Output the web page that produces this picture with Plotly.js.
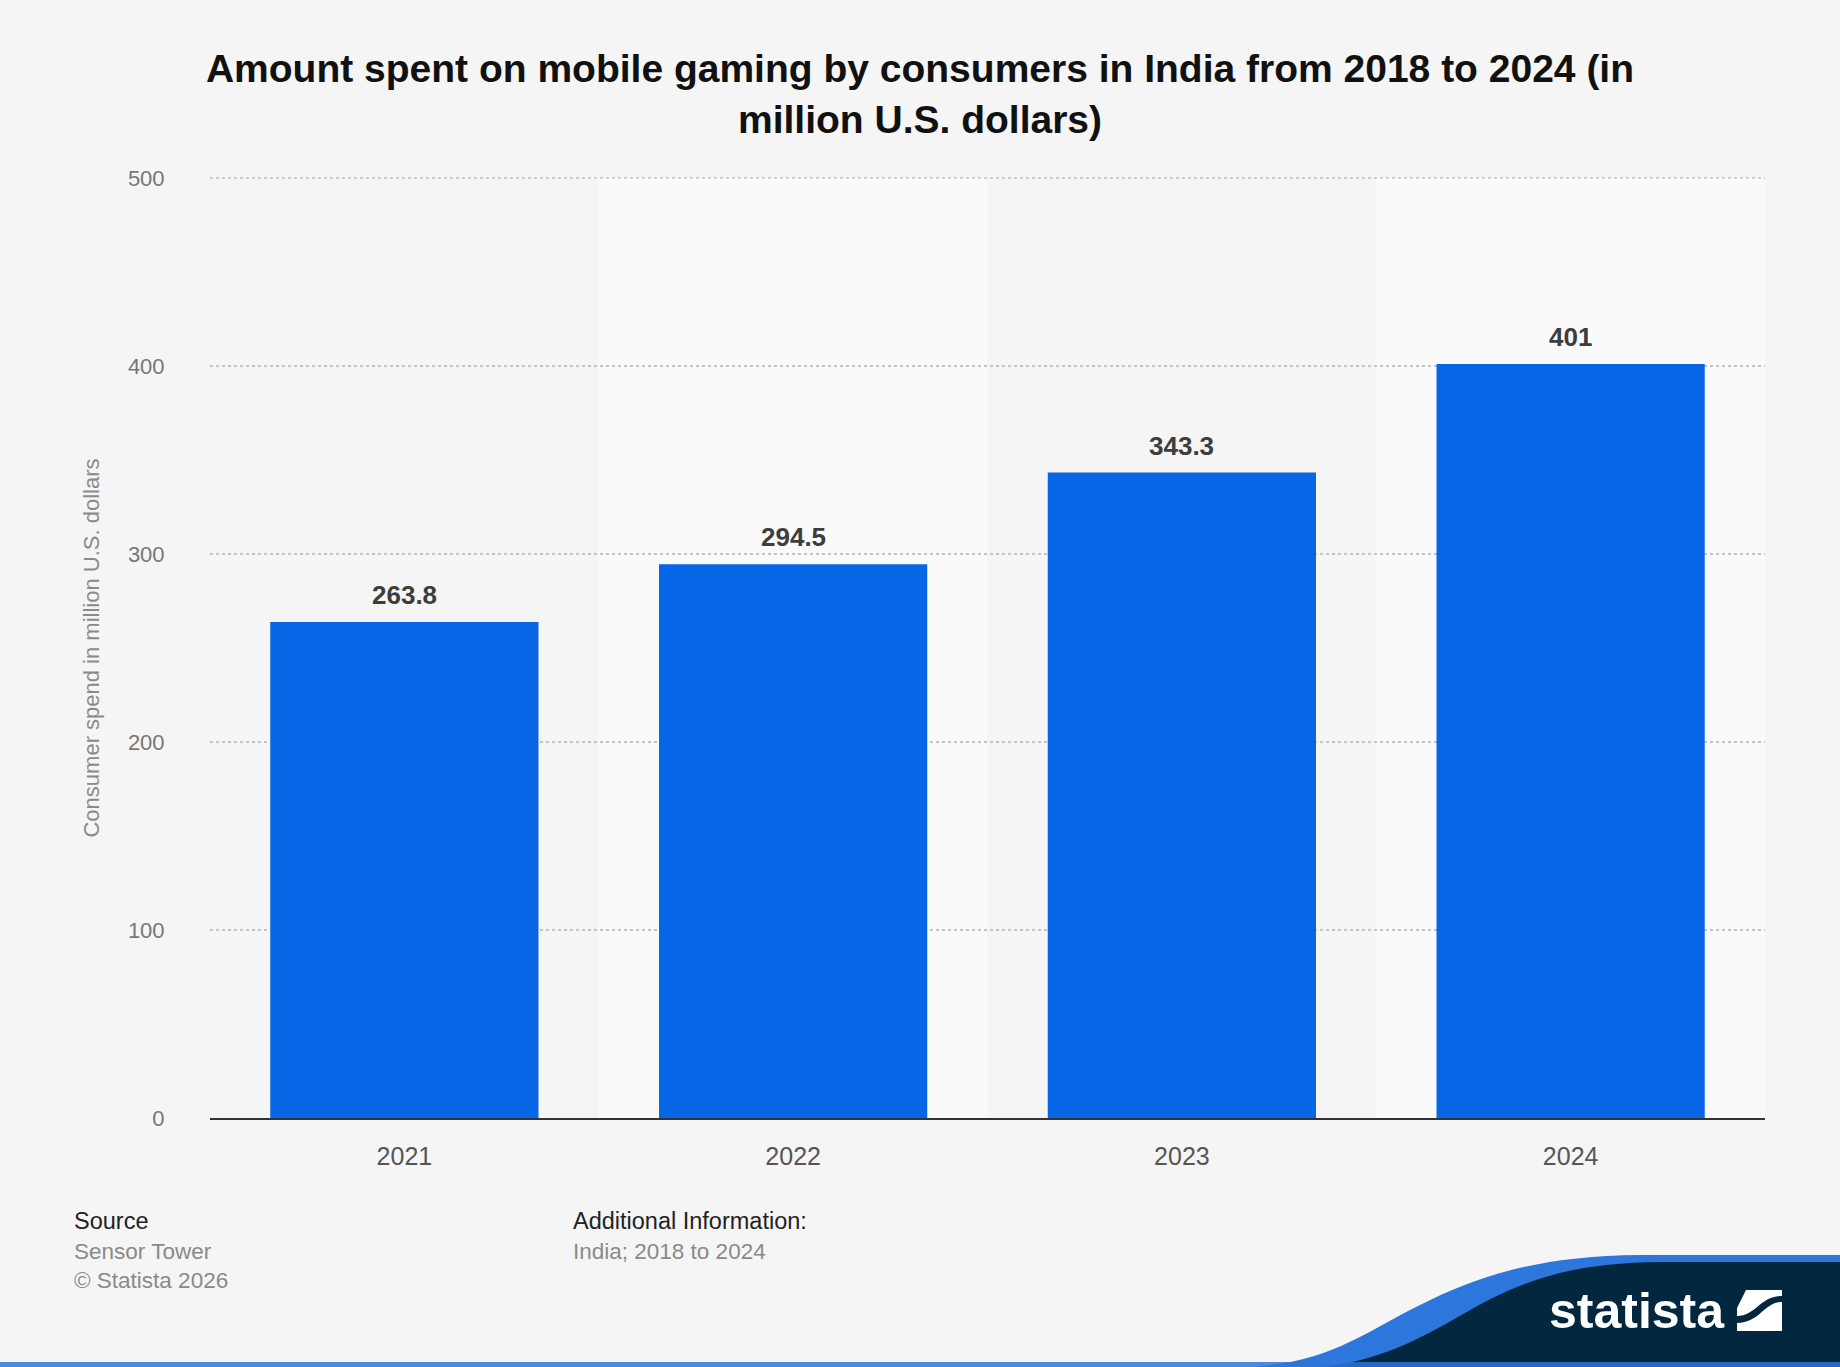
<!DOCTYPE html>
<html>
<head>
<meta charset="utf-8">
<script src="https://cdn.plot.ly/plotly-3.0.1.min.js"></script>
<style>
  html, body { margin: 0; padding: 0; background: #f5f5f5; }
  #chart { width: 1840px; height: 1367px; }
</style>
</head>
<body>
<div id="chart"></div>
<script>
// ---- data ----
const years = ['2021', '2022', '2023', '2024'];
const spend = [263.8, 294.5, 343.3, 401];
const yTicks = [0, 100, 200, 300, 400, 500];

const titleText = 'Amount spent on mobile gaming by consumers in India from 2018 to 2024 (in<br>million U.S. dollars)';
const yTitle = 'Consumer spend in million U.S. dollars';
const sourceLabel = 'Source';
const sourceName = 'Sensor Tower';
const copyright = '© Statista 2026';
const addInfoLabel = 'Additional Information:';
const addInfoText = 'India; 2018 to 2024';

// ---- geometry helpers (pixel -> paper) ----
const W = 1840, H = 1367;
const M = { l: 210, r: 75, t: 178, b: 249 };
const PW = W - M.l - M.r, PH = H - M.t - M.b;
const X = p => (p - M.l) / PW;
const Y = p => (H - M.b - p) / PH;
const FONT = 'Liberation Sans, Arial, Helvetica, sans-serif';
const yMax = yTicks[yTicks.length - 1];

// ---- traces ----
const trace = {
  type: 'bar',
  x: years,
  y: spend,
  marker: { color: '#0766e6', line: { width: 0 } },
  hoverinfo: 'x+y'
};

// ---- shapes ----
const shapes = [];
years.forEach((yr, i) => {
  if (i % 2 === 1) {
    shapes.push({
      type: 'rect', xref: 'x', yref: 'paper',
      x0: i - 0.5, x1: i + 0.5, y0: 0, y1: 1,
      fillcolor: '#fafafa', line: { width: 0 }, layer: 'below'
    });
  }
});
// top gridline (at the upper edge of the plot area, otherwise clipped)
shapes.push({
  type: 'line', xref: 'paper', yref: 'paper',
  x0: 0, x1: 1, y0: 1, y1: 1,
  line: { color: '#c4c4c4', width: 1.5, dash: 'dot' }, layer: 'above'
});

function pathFrom(points) { // points in pixels
  return points.map(c => {
    if (c[0] === 'M' || c[0] === 'L') return c[0] + ' ' + X(c[1]) + ',' + Y(c[2]);
    if (c[0] === 'C') return 'C ' + X(c[1]) + ',' + Y(c[2]) + ' ' + X(c[3]) + ',' + Y(c[4]) + ' ' + X(c[5]) + ',' + Y(c[6]);
    return 'Z';
  }).join(' ');
}
// logo background wave (blue) and navy body
shapes.push({
  type: 'path', xref: 'paper', yref: 'paper', layer: 'above',
  path: pathFrom([['M', 1250, 1367], ['C', 1330, 1362, 1360, 1335, 1420, 1305],
                  ['C', 1480, 1275, 1540, 1256, 1640, 1255], ['L', 1840, 1255], ['L', 1840, 1367], ['Z']]),
  fillcolor: '#2d76db', line: { width: 0 }
});
shapes.push({
  type: 'path', xref: 'paper', yref: 'paper', layer: 'above',
  path: pathFrom([['M', 1320, 1367], ['C', 1375, 1362, 1415, 1342, 1465, 1313],
                  ['C', 1525, 1278, 1575, 1263, 1660, 1262], ['L', 1840, 1262], ['L', 1840, 1367], ['Z']]),
  fillcolor: '#03273f', line: { width: 0 }
});
// logo icon
shapes.push({
  type: 'rect', xref: 'paper', yref: 'paper', layer: 'above',
  x0: X(1737), x1: X(1782), y0: Y(1331), y1: Y(1290),
  fillcolor: '#ffffff', line: { width: 0 }
});
shapes.push({
  type: 'path', xref: 'paper', yref: 'paper', layer: 'above',
  path: pathFrom([['M', 1737, 1316], ['C', 1756, 1316, 1760, 1296, 1782, 1296], ['L', 1782, 1302],
                  ['C', 1764, 1302, 1760, 1323, 1737, 1323], ['Z']]),
  fillcolor: '#03273f', line: { width: 0 }
});
shapes.push({
  type: 'path', xref: 'paper', yref: 'paper', layer: 'above',
  path: pathFrom([['M', 1737, 1290], ['L', 1746, 1290], ['L', 1737, 1308], ['Z']]),
  fillcolor: '#03273f', line: { width: 0 }
});
// bottom stripe
shapes.push({
  type: 'rect', xref: 'paper', yref: 'paper', layer: 'above',
  x0: X(0), x1: X(W), y0: Y(H), y1: Y(H - 5),
  fillcolor: '#2d76db', opacity: 0.85, line: { width: 0 }
});

// ---- annotations ----
const annotations = years.map((yr, i) => ({
  xref: 'x', yref: 'y', x: i, y: spend[i],
  text: String(spend[i]), showarrow: false,
  yanchor: 'middle', yshift: 27,
  font: { family: FONT, size: 26, color: '#3d3d3d', weight: 'bold' }
}));

function footer(text, px, py, size, color) {
  return {
    xref: 'paper', yref: 'paper', x: X(px), y: Y(py),
    xanchor: 'left', yanchor: 'middle', showarrow: false, text: text,
    font: { family: FONT, size: size, color: color }
  };
}
annotations.push(footer(sourceLabel, 72, 1221, 23.5, '#222222'));
annotations.push(footer(sourceName, 72, 1251, 22.5, '#8a8a8a'));
annotations.push(footer(copyright, 72, 1280, 22.5, '#8a8a8a'));
annotations.push(footer(addInfoLabel, 571, 1221, 23.5, '#222222'));
annotations.push(footer(addInfoText, 571, 1251, 22.5, '#8a8a8a'));
annotations.push({
  xref: 'paper', yref: 'paper', x: X(1637), y: Y(1311),
  xanchor: 'center', yanchor: 'middle', showarrow: false, text: 'statista',
  font: { family: FONT, size: 50, color: '#ffffff', weight: 'bold' }
});

// ---- layout ----
const layout = {
  width: W, height: H, autosize: false,
  margin: { l: M.l, r: M.r, t: M.t, b: M.b, pad: 0 },
  paper_bgcolor: '#f5f5f5',
  plot_bgcolor: '#f5f5f5',
  showlegend: false,
  bargap: 0.31,
  title: {
    text: titleText,
    xref: 'container', x: 0.5, xanchor: 'center',
    yref: 'container', y: 1 - 82 / H, yanchor: 'middle',
    font: { family: FONT, size: 39, color: '#111111', weight: 'bold' }
  },
  xaxis: {
    type: 'category',
    categoryorder: 'array', categoryarray: years,
    range: [-0.5, years.length - 0.5], autorange: false,
    showgrid: false, zeroline: false,
    showline: true, linecolor: '#333333', linewidth: 2,
    ticks: 'outside', ticklen: 15, tickcolor: 'rgba(0,0,0,0)',
    tickfont: { family: FONT, size: 25, color: '#555555' },
    fixedrange: true
  },
  yaxis: {
    range: [0, yMax], autorange: false,
    tickvals: yTicks,
    ticktext: yTicks.map(String),
    showgrid: true, gridcolor: '#c4c4c4', gridwidth: 1.5, griddash: 'dot',
    zeroline: false, showline: false,
    ticks: 'outside', ticklen: 40, tickcolor: 'rgba(0,0,0,0)',
    tickfont: { family: FONT, size: 22, color: '#777777' },
    title: { text: yTitle, standoff: 22, font: { family: FONT, size: 22, color: '#8a8a8a' } },
    fixedrange: true
  },
  shapes: shapes,
  annotations: annotations
};

Plotly.newPlot('chart', [trace], layout, { displayModeBar: false, staticPlot: true });
</script>
</body>
</html>
